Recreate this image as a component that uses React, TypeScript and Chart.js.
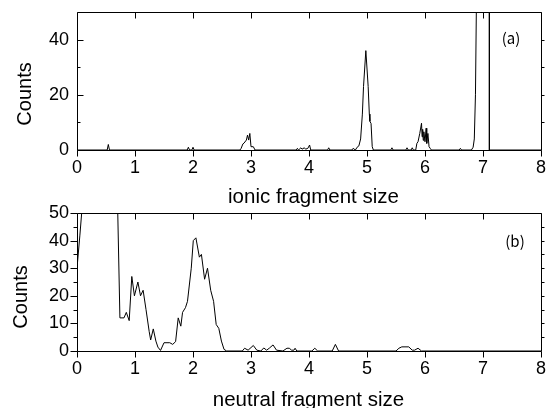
import { useEffect, useRef } from "react";
import { Chart, registerables } from "chart.js";

Chart.register(...registerables);

// ---------- data ----------
const xTickValues = [0, 1, 2, 3, 4, 5, 6, 7, 8];

// (a) ionic fragment size spectrum
const ionicSize = [
  0, 0.52, 0.54, 0.56, 1.9, 1.92, 1.94, 1.98, 2.0, 2.02,
  2.81, 2.83, 2.86, 2.88, 2.92, 2.94, 2.96, 2.98, 3.0, 3.04, 3.07,
  3.78, 3.8, 3.82, 3.86, 3.88, 3.92, 3.94, 3.98, 4.01, 4.03,
  4.32, 4.34, 4.36, 4.74, 4.76, 4.8, 4.83, 4.86, 4.89, 4.92, 4.94, 4.98,
  5.02, 5.04, 5.05, 5.07, 5.09, 5.11,
  5.41, 5.43, 5.45, 5.67, 5.69, 5.71, 5.76, 5.78, 5.8,
  5.84, 5.86, 5.88, 5.91, 5.94, 5.95, 5.96, 5.97, 5.98, 6.0, 6.02, 6.03, 6.05, 6.07, 6.09, 6.11,
  6.59, 6.61, 6.63, 6.8, 6.83, 6.85, 6.87, 6.89, 6.92, 7.0, 7.08, 7.105, 7.11, 8,
];
const ionicCounts = [
  0, 0, 2, 0, 0, 1, 0, 0, 1, 0,
  0, 0.6, 2.2, 2.5, 3.6, 5.4, 3.6, 6, 1.2, 1.2, 0,
  0, 0.6, 0, 0.8, 0.3, 0.8, 0.3, 0.6, 1.8, 0,
  0, 0.8, 0, 0, 0.6, 0, 1, 1.5, 4, 13, 23, 36,
  23, 13, 10.4, 9.6, 1.2, 0,
  0, 0.8, 0, 0, 0.8, 0, 0, 0.8, 0,
  0, 2.4, 3, 6, 9.7, 4.8, 7.5, 3.5, 6.6, 3, 7.9, 2.4, 6, 1.2, 0.6, 0,
  0, 0.6, 0, 0, 1, 4, 20, 60, 250, 400, 300, 900, 0, 0,
];

// (b) neutral fragment size spectrum
const neutralSize = [
  0, 0.05, 0.1, 0.2, 0.35, 0.5, 0.62, 0.68, 0.7, 0.74, 0.81, 0.85, 0.9, 0.945,
  0.99, 1.05, 1.095, 1.14, 1.19, 1.245, 1.27, 1.315, 1.36, 1.395, 1.44, 1.5,
  1.6, 1.65, 1.7, 1.745, 1.79, 1.82, 1.87, 1.905, 1.97, 2.005, 2.05, 2.11,
  2.145, 2.2, 2.25, 2.305, 2.355, 2.4, 2.445, 2.49, 2.535, 2.58,
  2.85, 2.89, 2.95, 3.04, 3.1, 3.17, 3.22, 3.27, 3.32, 3.38, 3.44,
  3.55, 3.62, 3.66, 3.7, 3.74, 3.76, 3.79, 4.05, 4.1, 4.15, 4.4, 4.455, 4.51,
  5.5, 5.55, 5.6, 5.72, 5.78, 5.82, 5.88, 5.94, 8,
];
const neutralCounts = [
  30, 42, 55, 90, 150, 140, 100, 80, 53, 12, 12, 14, 11, 27,
  20, 25, 20, 22, 15, 7, 4, 8, 3.6, 1.4, 0.2, 3,
  3, 2.4, 3.4, 12, 9, 14, 15.7, 18, 30, 40, 41, 34,
  35, 26, 30, 22, 18, 9.6, 8.2, 3.6, 0.6, 0,
  0, 1, 0.3, 2, 0.3, 0, 1.1, 0.3, 1.1, 2.2, 0.3,
  0, 1, 1, 0.3, 0.3, 1, 0, 0, 1, 0, 0, 2.4, 0,
  0, 1, 1.5, 1.5, 0.3, 0.3, 1, 0, 0,
];

const ionicYLabels = [0, 20, 40];
const ionicYMinor = [10, 30];
const ionicRightTicks = [10, 20, 30, 40];
const neutralYLabels = [0, 10, 20, 30, 40, 50];
const neutralYMinor = [5, 15, 25, 35, 45];
const neutralRightTicks = [5, 10, 15, 20, 25, 30, 35, 40, 45];

const FONT = "'Liberation Sans', Arial, sans-serif";
const CJK = "'Noto Sans CJK JP', 'Liberation Sans', sans-serif";

type FrameOpts = {
  leftOut: boolean;
  yMajor: number[];
  yMinor: number[];
  rightTicks: number[];
  xTitle: string;
  xTitleDx: number;
  xTitleDy: number;
  yTitleX: number;
  yTitleDy: number;
  panel: string;
  panelX: number;
  panelY: number;
};

const framePlugin = {
  id: "frame",
  afterDraw(chart: any, _args: any, o: FrameOpts) {
    const { ctx, chartArea } = chart;
    const { left, right, top, bottom } = chartArea;
    const xs = chart.scales.x;
    const ys = chart.scales.y;
    const r = (v: number) => Math.round(v) + 0.5;
    ctx.save();
    ctx.strokeStyle = "#000";
    ctx.lineWidth = 1;
    ctx.beginPath();
    ctx.rect(r(left), r(top), Math.round(right) - Math.round(left), Math.round(bottom) - Math.round(top));
    xTickValues.forEach((v) => {
      const px = r(xs.getPixelForValue(v));
      ctx.moveTo(px, r(bottom));
      ctx.lineTo(px, r(bottom) + 6);
      ctx.moveTo(px, r(top));
      ctx.lineTo(px, r(top) + 6);
    });
    o.yMajor.forEach((v) => {
      const py = r(ys.getPixelForValue(v));
      if (o.leftOut) {
        ctx.moveTo(r(left) - 7, py);
        ctx.lineTo(r(left), py);
      } else {
        ctx.moveTo(r(left), py);
        ctx.lineTo(r(left) + 6, py);
      }
    });
    o.yMinor.forEach((v) => {
      const py = r(ys.getPixelForValue(v));
      if (o.leftOut) {
        ctx.moveTo(r(left) - 4, py);
        ctx.lineTo(r(left), py);
      } else {
        ctx.moveTo(r(left), py);
        ctx.lineTo(r(left) + 3, py);
      }
    });
    o.rightTicks.forEach((v) => {
      const py = r(ys.getPixelForValue(v));
      ctx.moveTo(r(right), py);
      ctx.lineTo(r(right) + 3, py);
    });
    ctx.stroke();

    ctx.fillStyle = "#000";
    ctx.font = `20.5px ${FONT}`;
    ctx.textAlign = "center";
    ctx.textBaseline = "alphabetic";
    ctx.fillText(o.xTitle, (left + right) / 2 + o.xTitleDx, bottom + o.xTitleDy);

    ctx.font = `20px ${FONT}`;
    ctx.save();
    ctx.translate(o.yTitleX, (top + bottom) / 2 + o.yTitleDy);
    ctx.rotate(-Math.PI / 2);
    ctx.textBaseline = "middle";
    ctx.fillText("Counts", 0, 0);
    ctx.restore();

    ctx.font = `15px ${CJK}`;
    ctx.textBaseline = "middle";
    ctx.fillText(o.panel, o.panelX, o.panelY);
    ctx.restore();
  },
};

const zeroPad = (s: any) => {
  s.paddingTop = 0;
  s.paddingBottom = 0;
  s.paddingLeft = 0;
  s.paddingRight = 0;
};

function makeConfig(
  xs: number[],
  ys: number[],
  labels: number[],
  padTop: number,
  xAxisH: number,
  frame: FrameOpts
): any {
  return {
    type: "line",
    data: {
      datasets: [
        {
          data: xs.map((x, i) => ({ x, y: ys[i] })),
          borderColor: "#000",
          borderWidth: 1,
          pointRadius: 0,
          tension: 0,
          fill: false,
        },
      ],
    },
    options: {
      animation: false,
      responsive: false,
      devicePixelRatio: 1,
      parsing: false,
      layout: { padding: { top: padTop, right: 7, left: 0, bottom: 0 } },
      scales: {
        x: {
          type: "linear",
          min: 0,
          max: 8,
          afterBuildTicks: (s: any) => {
            s.ticks = xTickValues.map((v) => ({ value: v }));
          },
          ticks: {
            color: "#000",
            font: { family: FONT, size: 18, lineHeight: 1 },
            padding: 9,
            maxRotation: 0,
            autoSkip: false,
          },
          grid: { display: false, drawTicks: false },
          border: { display: false },
          afterFit: (s: any) => {
            s.height = xAxisH;
            zeroPad(s);
          },
        },
        y: {
          type: "linear",
          min: 0,
          max: 50,
          afterBuildTicks: (s: any) => {
            s.ticks = labels.map((v) => ({ value: v }));
          },
          ticks: {
            color: "#000",
            font: { family: FONT, size: 18, lineHeight: 1 },
            padding: 8,
          },
          grid: { display: false, drawTicks: false },
          border: { display: false },
          afterFit: (s: any) => {
            s.width = 77;
            zeroPad(s);
          },
        },
      },
      plugins: {
        legend: { display: false },
        tooltip: { enabled: false },
        frame,
      },
    },
    plugins: [framePlugin],
  };
}

export default function App() {
  const topRef = useRef<HTMLCanvasElement>(null);
  const botRef = useRef<HTMLCanvasElement>(null);

  useEffect(() => {
    const c1 = new Chart(
      topRef.current!,
      makeConfig(ionicSize, ionicCounts, ionicYLabels, 12, 64, {
        leftOut: false,
        yMajor: ionicYLabels,
        yMinor: ionicYMinor,
        rightTicks: ionicRightTicks,
        xTitle: "ionic fragment size",
        xTitleDx: 4.5,
        xTitleDy: 53,
        yTitleX: 25,
        yTitleDy: 13,
        panel: "(a)",
        panelX: 511,
        panelY: 38,
      })
    );
    const c2 = new Chart(
      botRef.current!,
      makeConfig(neutralSize, neutralCounts, neutralYLabels, 9, 57, {
        leftOut: true,
        yMajor: neutralYLabels,
        yMinor: neutralYMinor,
        rightTicks: neutralRightTicks,
        xTitle: "neutral fragment size",
        xTitleDx: -0.5,
        xTitleDy: 55,
        yTitleX: 21,
        yTitleDy: 15,
        panel: "(b)",
        panelX: 515,
        panelY: 37,
      })
    );
    return () => {
      c1.destroy();
      c2.destroy();
    };
  }, []);

  return (
    <div style={{ position: "absolute", left: 0, top: 0, width: 548, height: 408, background: "#fff" }}>
      <canvas ref={topRef} width={548} height={214} style={{ position: "absolute", left: 0, top: 0, width: 548, height: 214 }} />
      <canvas ref={botRef} width={548} height={204} style={{ position: "absolute", left: 0, top: 204, width: 548, height: 204 }} />
    </div>
  );
}
